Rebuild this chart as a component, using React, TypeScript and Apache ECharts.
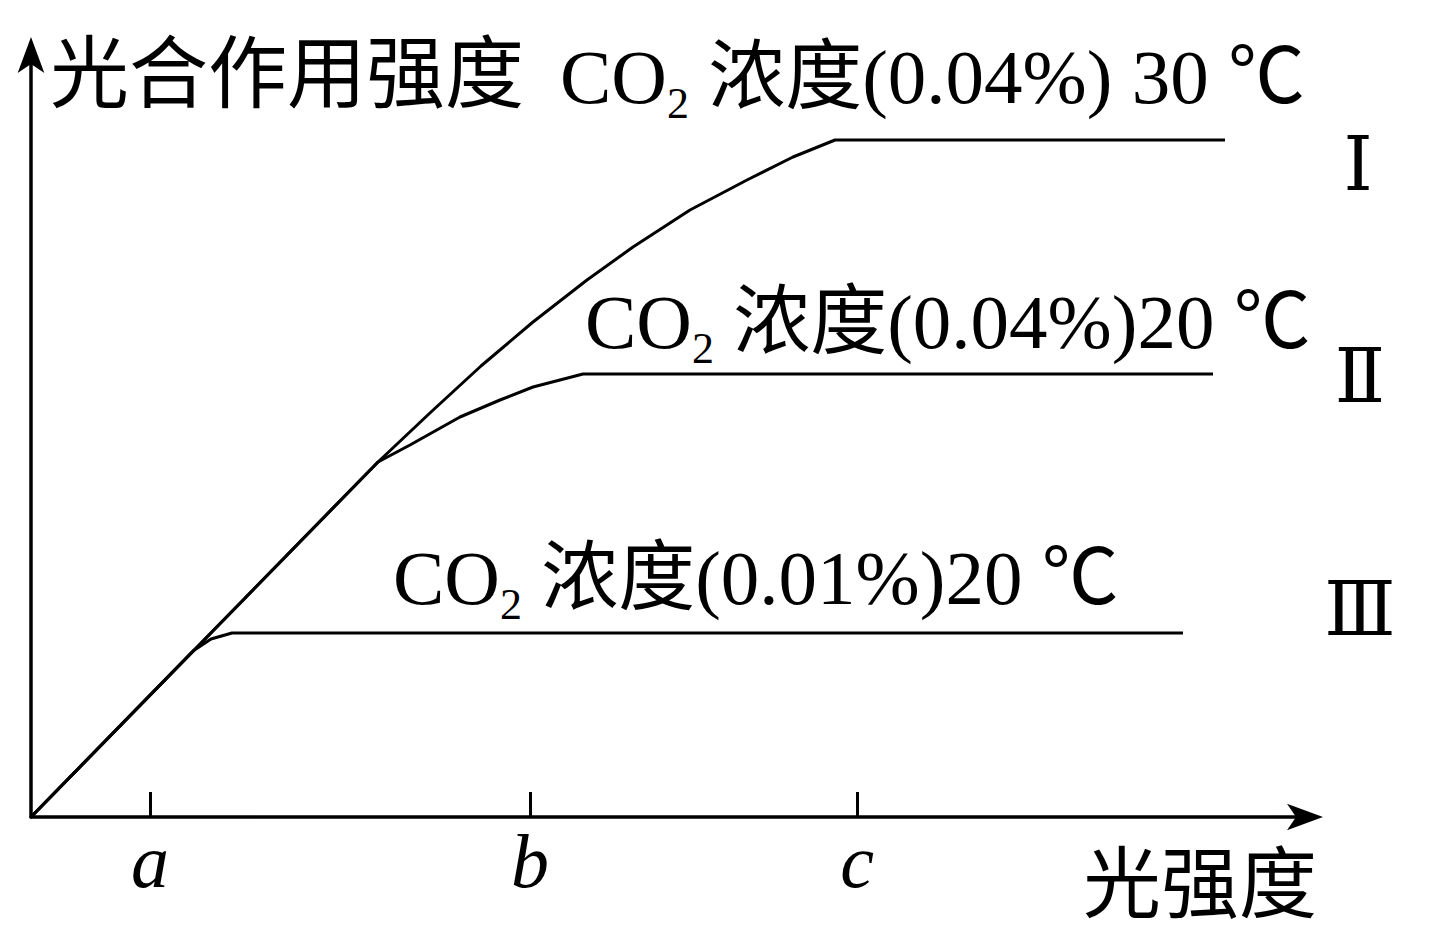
import React, { useEffect, useRef } from "react";
import * as echarts from "echarts";

// Data units: arbitrary (light intensity on x, photosynthesis rate on y)
const curveI: [number, number][] = [
  [0, 0], [34.7, 35.5], [40, 40.5], [45, 45.1], [50.2, 49.5], [55.6, 53.7],
  [60.2, 57.0], [65.9, 60.7], [71.6, 63.7], [76.2, 66.0], [80.4, 67.7], [119.4, 67.7],
];
const curveII: [number, number][] = [
  [0, 0], [34.7, 35.5], [37.9, 37.2], [42.9, 40.0], [46.9, 41.7], [50.2, 43.0],
  [55.2, 44.3], [118.2, 44.3],
];
const curveIII: [number, number][] = [
  [0, 0], [16.2, 16.6], [18.0, 17.8], [20.1, 18.4], [115.2, 18.4],
];

const tickValues = [11.9, 49.9, 82.6];
const tickLabels = ["a", "b", "c"];

const yAxisTitle = "光合作用强度";
const xAxisTitle = "光强度";
const curveNames = ["Ⅰ", "Ⅱ", "Ⅲ"];
const labelHead = ["CO", "CO", "CO"];
const labelSub = ["2", "2", "2"];
const labelTail = [" 浓度(0.04%) 30 ℃", " 浓度(0.04%)20 ℃", " 浓度(0.01%)20 ℃"];

const X_MAX = 127.5;
const Y_MAX = 76.3;

const FONT = "'Liberation Serif', 'Noto Sans CJK SC', serif";
const ROMAN_FONT = "'Liberation Serif', 'DejaVu Serif', 'Noto Sans CJK SC', serif";

export default function App() {
  const ref = useRef<HTMLDivElement>(null);

  useEffect(() => {
    document.body.style.margin = "0";
    if (!ref.current) return;
    const chart = echarts.init(ref.current, undefined, { renderer: "svg" });

    const richLabel = (i: number, x: number, y: number) => ({
      type: "text",
      x,
      y,
      style: {
        text: `{n|${labelHead[i]}}{s|${labelSub[i]}}{n|${labelTail[i]}}`,
        fill: "#000",
        align: "left",
        textAlign: "left",
        verticalAlign: "middle",
        textVerticalAlign: "middle",
        rich: {
          n: { fontSize: 77, fontFamily: FONT, lineHeight: 96, fill: "#000", color: "#000" },
          s: { fontSize: 44, fontFamily: FONT, lineHeight: 44, verticalAlign: "bottom", fill: "#000", color: "#000" },
        },
      },
    });

    const plainText = (text: string, x: number, y: number, size: number, family: string, align = "left") => ({
      type: "text",
      x,
      y,
      style: {
        text,
        fill: "#000",
        fontSize: size,
        fontFamily: family,
        align,
        textAlign: align,
        verticalAlign: "middle",
        textVerticalAlign: "middle",
      },
    });

    const lineSeries = (name: string, data: [number, number][]) => ({
      type: "line",
      name,
      data,
      symbol: "none",
      smooth: false,
      lineStyle: { color: "#000", width: 3 },
      z: 3,
    });

    const axisLine = {
      show: true,
      onZero: false,
      lineStyle: { color: "#000", width: 3.5 },
      symbol: ["none", "arrow"],
      symbolSize: [20, 36],
      symbolOffset: [0, 17],
    };

    chart.setOption({
      animation: false,
      backgroundColor: "#fff",
      grid: { left: 31, top: 54, width: 1275, height: 763, containLabel: false },
      xAxis: {
        type: "value",
        min: 0,
        max: X_MAX,
        splitLine: { show: false },
        axisLine,
        axisTick: {
          show: true,
          inside: true,
          length: 25,
          customValues: tickValues,
          lineStyle: { color: "#000", width: 3 },
        },
        axisLabel: {
          show: true,
          customValues: tickValues,
          margin: 6,
          color: "#000",
          fontSize: 76,
          fontStyle: "italic",
          fontFamily: "'Liberation Serif', serif",
          formatter: (v: number) => {
            const idx = tickValues.findIndex((t) => Math.abs(t - v) < 1e-6);
            return idx >= 0 ? tickLabels[idx] : "";
          },
        },
      },
      yAxis: {
        type: "value",
        min: 0,
        max: Y_MAX,
        splitLine: { show: false },
        axisTick: { show: false },
        axisLabel: { show: false },
        axisLine,
      },
      series: [
        lineSeries("Ⅰ", curveI),
        lineSeries("Ⅱ", curveII),
        lineSeries("Ⅲ", curveIII),
      ],
      graphic: [
        plainText(yAxisTitle, 50, 75, 79, FONT),
        plainText(xAxisTitle, 1083, 885, 78, FONT),
        richLabel(0, 560, 77),
        richLabel(1, 585, 322),
        richLabel(2, 393, 578),
        plainText(curveNames[0], 1358, 165, 74, ROMAN_FONT, "center"),
        plainText(curveNames[1], 1360, 377, 74, ROMAN_FONT, "center"),
        plainText(curveNames[2], 1360, 610, 74, ROMAN_FONT, "center"),
      ],
    });

    return () => chart.dispose();
  }, []);

  return <div ref={ref} style={{ width: 1429, height: 946 }} />;
}
